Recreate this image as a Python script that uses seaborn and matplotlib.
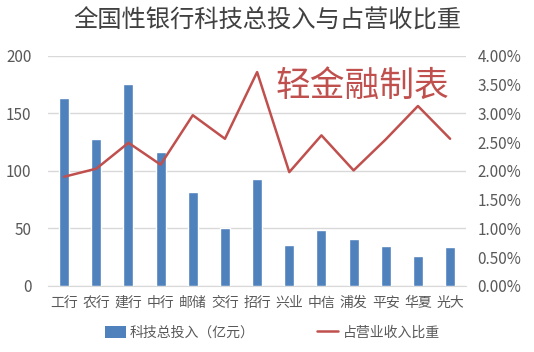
import numpy as np
import pandas as pd
import seaborn as sns
import matplotlib.pyplot as plt
from matplotlib.patches import Patch
from matplotlib.lines import Line2D
from matplotlib.ticker import PercentFormatter

banks = ['工行', '农行', '建行', '中行', '邮储', '交行', '招行', '兴业', '中信', '浦发', '平安', '华夏', '光大']
invest = [163.5, 128, 176, 116.5, 82, 50.5, 93, 36, 49, 41, 35, 26, 34]
ratio = [1.90, 2.04, 2.49, 2.11, 2.97, 2.56, 3.72, 1.98, 2.62, 2.01, 2.55, 3.13, 2.56]

bar_color = '#4F81BD'
line_color = '#C0504D'
text_color = '#595959'

sns.set_style('white')
plt.rcParams['font.family'] = ['Noto Sans CJK SC', 'DejaVu Sans']

df = pd.DataFrame({'bank': banks, 'invest': invest, 'ratio': ratio})

fig = plt.figure(figsize=(5.34, 3.52), dpi=100)
ax = fig.add_axes([0.09, 0.1875, 0.783, 0.6535])

sns.barplot(data=df, x='bank', y='invest', color=bar_color, width=0.31,
            saturation=1, ax=ax, zorder=3)
ax.set_ylim(0, 200)
ax.set_yticks([0, 50, 100, 150, 200])
ax.set_xlim(-0.5, len(banks) - 0.5)
ax.grid(axis='y', color='#D9D9D9', linewidth=1, zorder=0)
ax.set_axisbelow(True)
ax.set_xlabel('')
ax.set_ylabel('')
ax.tick_params(axis='y', length=0, pad=12, labelsize=11, labelcolor=text_color)
ax.tick_params(axis='x', length=0, pad=7, labelsize=10, labelcolor=text_color)
for s in ['top', 'right', 'left']:
    ax.spines[s].set_visible(False)
ax.spines['bottom'].set_color('#D9D9D9')

ax2 = ax.twinx()
sns.lineplot(x=np.arange(len(banks)), y=np.array(ratio) / 100, color=line_color,
             linewidth=1.8, ax=ax2)
ax2.set_ylim(0, 0.04)
ax2.set_yticks(np.arange(0, 0.0401, 0.005))
ax2.yaxis.set_major_formatter(PercentFormatter(1.0, decimals=2))
ax2.tick_params(axis='y', length=0, pad=8, labelsize=11, labelcolor=text_color)
for s in ax2.spines.values():
    s.set_visible(False)
ax2.set_ylabel('')

fig.text(0.5, 0.94, '全国性银行科技总投入与占营收比重', ha='center', va='center',
         fontsize=17.5, color='#404040', fontweight='light')
fig.text(0.678, 0.755, '轻金融制表', ha='center', va='center', fontsize=25,
         color=line_color, style='italic', fontweight='light')

handles = [Patch(facecolor=bar_color, edgecolor='none'),
           Line2D([0], [0], color=line_color, linewidth=1.8)]
leg = fig.legend(handles, ['科技总投入（亿元）', '占营业收入比重'], loc='center',
                 bbox_to_anchor=(0.51, 0.055), ncol=2, frameon=False, fontsize=10,
                 handlelength=1.5, handleheight=0.9, columnspacing=4.5, handletextpad=0.3)
for t in leg.get_texts():
    t.set_color(text_color)
    t.set_style('italic')

fig.savefig('out.png', dpi=100)
